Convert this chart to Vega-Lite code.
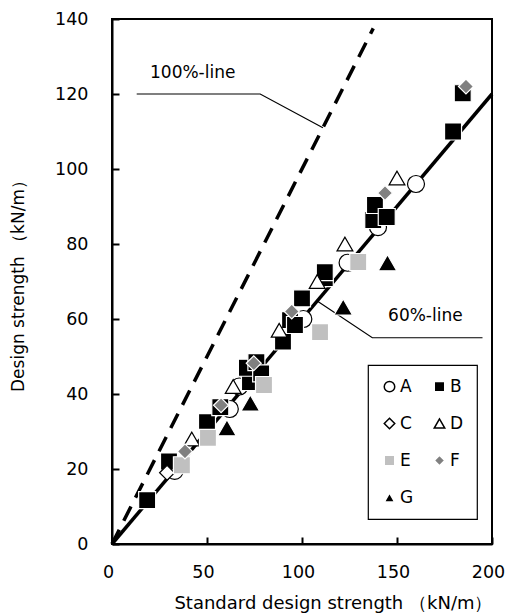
{
  "$schema": "https://vega.github.io/schema/vega-lite/v6.json",
  "width": 380,
  "height": 525,
  "autosize": {"type": "none"},
  "padding": {"left": 112, "top": 19, "right": 16, "bottom": 70},
  "background": "white",
  "config": {
    "view": {"stroke": "black", "strokeWidth": 2},
    "axis": {
      "domainColor": "black", "domainWidth": 2,
      "tickColor": "black", "tickWidth": 2, "tickSize": -7,
      "grid": false, "labelFlush": false,
      "labelFont": "DejaVu Sans", "labelFontSize": 17.5, "labelColor": "black",
      "titleFont": "DejaVu Sans", "titleFontSize": 17, "titleFontWeight": "normal", "titleColor": "black"
    },
    "legend": {
      "orient": "none", "legendX": 256, "legendY": 346, "direction": "horizontal",
      "columns": 2, "strokeColor": "black", "strokeWidth": 1.2, "fillColor": "white",
      "padding": 13, "rowPadding": 19, "columnPadding": 17,
      "symbolSize": 110, "symbolStrokeWidth": 1.5,
      "labelFont": "DejaVu Sans", "labelFontSize": 17, "labelColor": "black", "labelOffset": 2
    }
  },
  "encoding": {
    "x": {
      "field": "x", "type": "quantitative",
      "scale": {"domain": [0, 200], "nice": false},
      "axis": {"values": [0, 50, 100, 150, 200], "title": "Standard design strength （kN/m）", "titleFontSize": 18, "titleAnchor": "end", "labelPadding": 26, "labelOffset": -4, "titlePadding": 14}
    },
    "y": {
      "field": "y", "type": "quantitative",
      "scale": {"domain": [0, 140], "nice": false},
      "axis": {"values": [0, 20, 40, 60, 80, 100, 120, 140], "title": "Design strength （kN/m）", "labelPadding": 31, "titlePadding": 27}
    }
  },
  "layer": [
    {
      "data": {"values": [{"x": 0, "y": 0}, {"x": 137.5, "y": 137.5}]},
      "mark": {"type": "line", "color": "black", "strokeWidth": 3.5, "strokeDash": [16, 10]}
    },
    {
      "data": {"values": [{"x": 0, "y": 0}, {"x": 200, "y": 120}]},
      "mark": {"type": "line", "color": "black", "strokeWidth": 3.5}
    },
    {
      "data": {"values": [
        {"leader": "a", "x": 13, "y": 120}, {"leader": "a", "x": 78, "y": 120}, {"leader": "a", "x": 111, "y": 111},
        {"leader": "b", "x": 108, "y": 64.8}, {"leader": "b", "x": 137, "y": 55}, {"leader": "b", "x": 195, "y": 55}
      ]},
      "mark": {"type": "line", "color": "black", "strokeWidth": 1.2},
      "encoding": {"detail": {"field": "leader"}}
    },
    {
      "data": {"values": [
        {"label": "100%-line", "x": 20, "y": 125.6},
        {"label": "60%-line", "x": 145.3, "y": 60.8}
      ]},
      "mark": {"type": "text", "align": "left", "baseline": "middle", "font": "DejaVu Sans", "fontSize": 17, "color": "black"},
      "encoding": {"text": {"field": "label"}}
    },
    {
      "data": {"values": [
        {"group": "A", "x": 33, "y": 19.5}, {"group": "A", "x": 62, "y": 36}, {"group": "A", "x": 67, "y": 42},
        {"group": "A", "x": 100.7, "y": 60}, {"group": "A", "x": 124, "y": 75}, {"group": "A", "x": 140, "y": 84.5}, {"group": "A", "x": 160, "y": 96},
        {"group": "B", "x": 18.5, "y": 11.7}, {"group": "B", "x": 30, "y": 22}, {"group": "B", "x": 50, "y": 32.5},
        {"group": "B", "x": 57, "y": 36.5}, {"group": "B", "x": 72.6, "y": 43.2}, {"group": "B", "x": 71, "y": 47},
        {"group": "B", "x": 76, "y": 48.5}, {"group": "B", "x": 78.5, "y": 45.5}, {"group": "B", "x": 90, "y": 54},
        {"group": "B", "x": 93.7, "y": 59.7}, {"group": "B", "x": 96.3, "y": 58.4}, {"group": "B", "x": 100, "y": 65.5},
        {"group": "B", "x": 112, "y": 70.9}, {"group": "B", "x": 112, "y": 72.5}, {"group": "B", "x": 137.5, "y": 86.4},
        {"group": "B", "x": 138.4, "y": 90.4}, {"group": "B", "x": 144.6, "y": 87.2}, {"group": "B", "x": 179.5, "y": 110},
        {"group": "B", "x": 184.6, "y": 120.2},
        {"group": "C", "x": 29, "y": 19},
        {"group": "D", "x": 42, "y": 28}, {"group": "D", "x": 63.8, "y": 42}, {"group": "D", "x": 88, "y": 57},
        {"group": "D", "x": 108, "y": 70}, {"group": "D", "x": 122.6, "y": 80}, {"group": "D", "x": 150, "y": 97.6},
        {"group": "E", "x": 36.8, "y": 21}, {"group": "E", "x": 50.5, "y": 28.3}, {"group": "E", "x": 80, "y": 42.4},
        {"group": "E", "x": 109.5, "y": 56.5}, {"group": "E", "x": 129.6, "y": 75.2},
        {"group": "F", "x": 38.4, "y": 24.7}, {"group": "F", "x": 57.4, "y": 37}, {"group": "F", "x": 74.6, "y": 48.2},
        {"group": "F", "x": 94.6, "y": 62}, {"group": "F", "x": 143.7, "y": 93.6}, {"group": "F", "x": 186.3, "y": 122},
        {"group": "G", "x": 60.5, "y": 31}, {"group": "G", "x": 72.8, "y": 37.6}, {"group": "G", "x": 121.7, "y": 63.2},
        {"group": "G", "x": 145, "y": 75}
      ]},
      "mark": {"type": "point", "opacity": 1, "fillOpacity": 1, "strokeWidth": 1.2},
      "encoding": {
        "shape": {
          "field": "group", "type": "nominal",
          "scale": {"domain": ["A", "B", "C", "D", "E", "F", "G"], "range": ["circle", "square", "diamond", "triangle-up", "square", "diamond", "triangle-up"]},
          "legend": {"title": null}
        },
        "fill": {
          "field": "group", "type": "nominal",
          "scale": {"domain": ["A", "B", "C", "D", "E", "F", "G"], "range": ["white", "black", "white", "white", "#c0c0c0", "#808080", "black"]},
          "legend": {"title": null}
        },
        "stroke": {
          "field": "group", "type": "nominal",
          "scale": {"domain": ["A", "B", "C", "D", "E", "F", "G"], "range": ["black", "white", "black", "black", "white", "white", "white"]},
          "legend": {"title": null}
        },
        "size": {
          "condition": [
            {"test": "datum.group === 'C' || datum.group === 'F'", "value": 225},
            {"test": "datum.group === 'D'", "value": 250},
            {"test": "datum.group === 'G'", "value": 340}
          ],
          "value": 289
        }
      }
    }
  ]
}
